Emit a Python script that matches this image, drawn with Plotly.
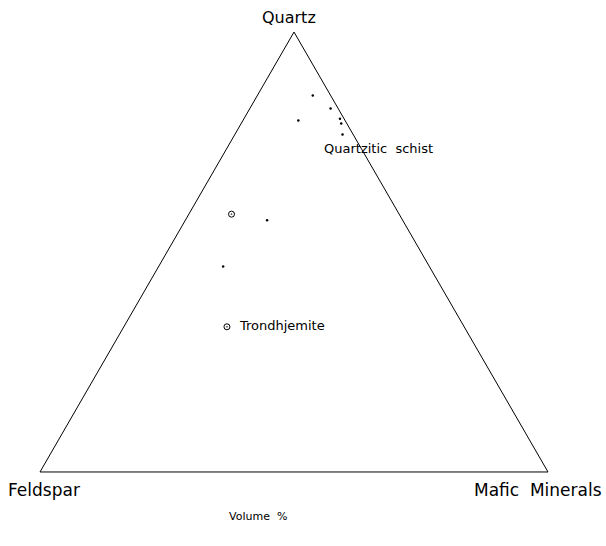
import plotly.graph_objects as go

# Modal composition (volume fractions): quartz, feldspar, mafic minerals
schist_quartz = [0.856, 0.826, 0.803, 0.792, 0.767, 0.799, 0.572, 0.467]
schist_feldspar = [0.035, 0.015, 0.008, 0.011, 0.021, 0.092, 0.267, 0.406]
schist_mafic = [0.109, 0.159, 0.189, 0.197, 0.212, 0.109, 0.161, 0.127]

trond_quartz = [0.586, 0.330]
trond_feldspar = [0.330, 0.467]
trond_mafic = [0.084, 0.203]
trond_labels = ["", "  Trondhjemite"]

font = "DejaVu Sans"
W, H = 606, 546


def label(text, x, y, size, anchor="center"):
    # x, y in pixels from top-left
    return dict(text=text, x=x / W, y=1 - y / H, xref="paper", yref="paper",
                xanchor=anchor, yanchor="middle", showarrow=False,
                font=dict(size=size))


fig = go.Figure()
fig.add_trace(go.Scatterternary(
    a=schist_quartz, b=schist_feldspar, c=schist_mafic,
    mode="markers",
    marker=dict(size=2.5, color="black"),
    showlegend=False, hoverinfo="skip"
))
fig.add_trace(go.Scatterternary(
    a=trond_quartz, b=trond_feldspar, c=trond_mafic,
    mode="markers+text",
    text=trond_labels,
    textposition="middle right",
    textfont=dict(family=font, size=13, color="black"),
    marker=dict(size=6, color="black", symbol="circle-open-dot",
                line=dict(width=1, color="black")),
    showlegend=False, hoverinfo="skip"
))

axis = dict(showticklabels=False, ticks="", showgrid=False,
            linecolor="black", linewidth=1, title=dict(text=""))

fig.update_layout(
    width=W, height=H,
    margin=dict(l=0, r=0, t=0, b=0),
    paper_bgcolor="white",
    font=dict(family=font, color="black"),
    ternary=dict(
        domain=dict(x=[40 / W, 548 / W], y=[74 / H, 514 / H]),
        bgcolor="white",
        sum=1,
        aaxis=axis, baxis=axis, caxis=axis,
    ),
    annotations=[
        label("Quartz", 289, 17, 16),
        label("Feldspar", 6, 490, 17, "left"),
        label("Mafic  Minerals", 604, 490, 17, "right"),
        label("Quartzitic  schist", 322, 149, 13, "left"),
        label("Volume  %", 258, 516, 11),
    ],
)

fig.write_html("out.html",
               config={"displayModeBar": False},
               post_script="document.body.style.margin='0';"
                           "document.body.style.overflow='hidden';")
